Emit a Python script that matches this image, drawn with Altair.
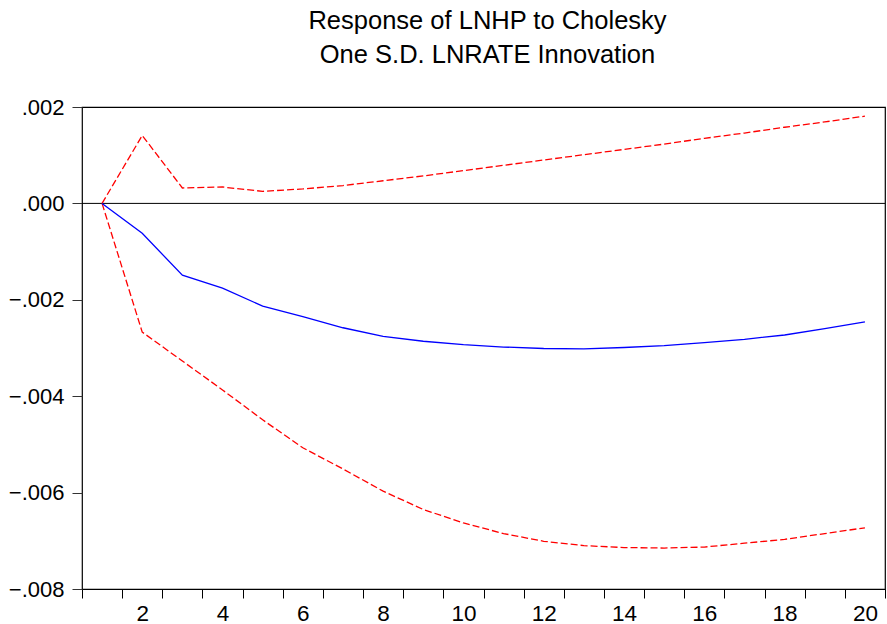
import altair as alt
import pandas as pd

periods = list(range(1, 21))
response = [0.0, -0.00062, -0.00149, -0.00176, -0.00213, -0.00235, -0.00258, -0.00276,
            -0.00286, -0.00293, -0.00298, -0.00301, -0.00302, -0.00299, -0.00295,
            -0.00289, -0.00282, -0.00273, -0.00260, -0.00246]
upper = [0.0, 0.00141, 0.00032, 0.00034, 0.00025, 0.00030, 0.00037, 0.00047,
         0.00057, 0.00068, 0.00079, 0.00090, 0.00101, 0.00112, 0.00123,
         0.00135, 0.00146, 0.00158, 0.00169, 0.00181]
lower = [0.0, -0.00267, -0.00327, -0.00387, -0.00449, -0.00507, -0.00551, -0.00597,
         -0.00635, -0.00663, -0.00685, -0.00701, -0.00710, -0.00714, -0.00715,
         -0.00713, -0.00705, -0.00697, -0.00685, -0.00673]
y_ticks = [-0.008, -0.006, -0.004, -0.002, 0.0, 0.002]
x_tick_positions = [i + 0.5 for i in range(0, 21)]

FONT = "Liberation Sans"

df = pd.DataFrame({"period": periods, "response": response, "upper": upper, "lower": lower})
band = pd.concat([
    pd.DataFrame({"period": periods, "value": upper, "band": "upper"}),
    pd.DataFrame({"period": periods, "value": lower, "band": "lower"}),
])

x_scale = alt.Scale(domain=[0.5, 20.5], nice=False, zero=False)
y_scale = alt.Scale(domain=[-0.008, 0.002], nice=False, zero=False)

x_axis = alt.Axis(
    values=x_tick_positions,
    labelExpr="((datum.value - 0.5) % 2 == 0 && datum.value > 1) ? format(datum.value - 0.5, 'd') : ''",
    labelOffset=-20.08,
    labelOverlap=False, labelBound=False, labelFlush=False,
    tickSize=9, tickColor="black", tickWidth=1,
    labelFont=FONT, labelFontSize=22.5, labelColor="black", labelPadding=4,
    domain=False, grid=False, title=None,
)
y_axis = alt.Axis(
    values=y_ticks,
    labelExpr="replace(format(datum.value, '.3f'), '0.', '.')",
    labelOverlap=False, labelBound=False, labelFlush=False,
    tickSize=10, tickColor="#333", tickWidth=1,
    labelFont=FONT, labelFontSize=22, labelColor="black", labelPadding=8,
    domain=False, grid=False, title=None,
)

base = alt.Chart(df)

center = base.mark_line(color="#0000ff", strokeWidth=1.3).encode(
    x=alt.X("period:Q", scale=x_scale, axis=x_axis),
    y=alt.Y("response:Q", scale=y_scale, axis=y_axis),
)

bands = alt.Chart(band).mark_line(color="#ff0000", strokeWidth=1.3, strokeDash=[7, 3]).encode(
    x=alt.X("period:Q", scale=x_scale),
    y=alt.Y("value:Q", scale=y_scale),
    detail="band:N",
)

zero = alt.Chart(pd.DataFrame({"z": [0.0]})).mark_rule(color="black", strokeWidth=1).encode(
    y=alt.Y("z:Q", scale=y_scale),
)

chart = alt.layer(zero, bands, center).properties(
    width=803,
    height=482,
    title=alt.TitleParams(
        text=["Response of LNHP to Cholesky", "One S.D. LNRATE Innovation"],
        font=FONT, fontSize=25.5, fontWeight="normal", color="black",
        lineHeight=34, anchor="middle", offset=28, dx=4,
    ),
    autosize=alt.AutoSizeParams(type="none"),
    padding={"left": 82, "top": 107, "right": 2, "bottom": 35},
    background="white",
).configure_view(
    stroke="black", strokeWidth=1.2
)

chart.save("out.html", embed_options={"renderer": "svg", "actions": False})
